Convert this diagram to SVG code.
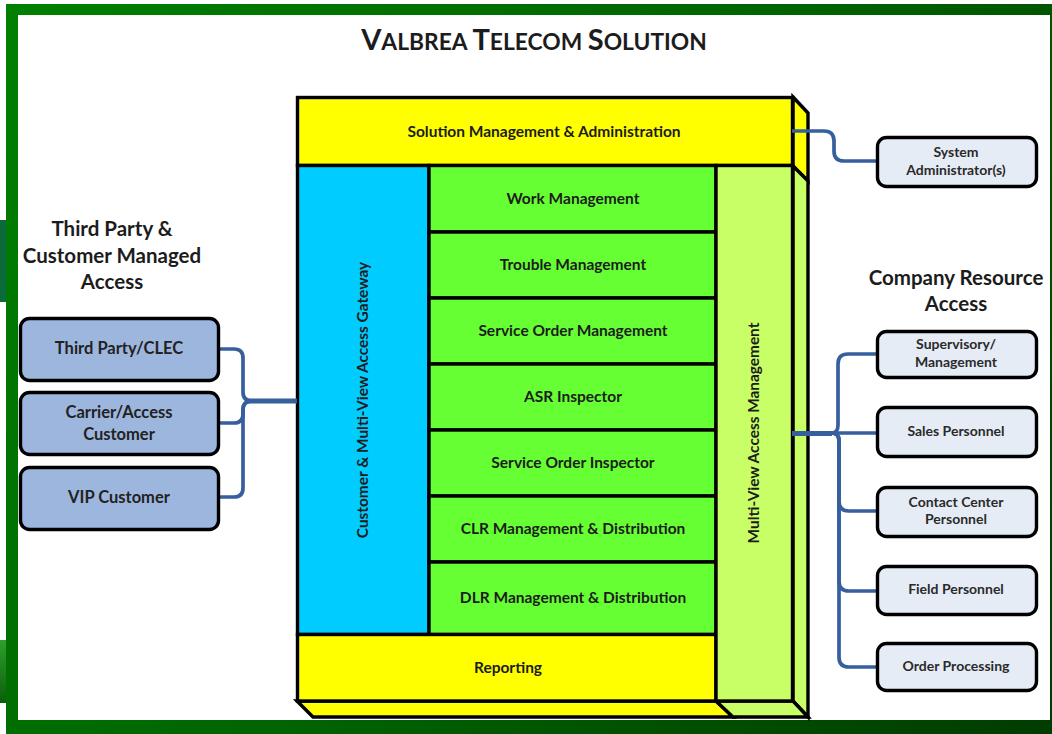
<svg xmlns="http://www.w3.org/2000/svg" width="1052" height="734" viewBox="0 0 1052 734">
<style>
text{font-family:Lato,"Liberation Sans",sans-serif;font-weight:700;fill:#1c1c1c;text-anchor:middle}
.s{stroke:#000;stroke-width:3.4;stroke-linejoin:miter}
.l{font-size:15.5px}
.v{font-size:15.4px}
.n{font-size:16.5px;fill:#222}
.p{font-size:14px;fill:#2a2a2a}
.h{font-size:20.5px}
.c{fill:none;stroke:#365f9e;stroke-width:3.7;stroke-linejoin:round}
.t{fill:none;stroke:#365f9e;stroke-width:5}
.a{fill:#9db6de;stroke:#000;stroke-width:3.4}
.b{fill:#e6ecf6;stroke:#000;stroke-width:3.4}
</style>
<defs>
<linearGradient id="fr" gradientUnits="userSpaceOnUse" x1="0" y1="0" x2="1052" y2="734"><stop offset="0" stop-color="#008000"/><stop offset="0.5" stop-color="#006400"/><stop offset="1" stop-color="#003c00"/></linearGradient>
<linearGradient id="ed" x1="0" y1="0" x2="0" y2="1"><stop offset="0" stop-color="#2e9e2e"/><stop offset="1" stop-color="#0b5e0b"/></linearGradient>
</defs>
<rect width="1052" height="734" fill="#fff"/>
<g id="frame">
<rect x="0" y="220" width="6" height="82" fill="#0a6a3a"/>
<rect x="0" y="640" width="6" height="63" fill="url(#ed)"/>
<path fill-rule="evenodd" fill="url(#fr)" d="M6 4H1052V734H6ZM18 15V720H1050V15Z"/>
</g>
<text id="title" x="534" y="50" font-size="22.800"><tspan font-size="29">V</tspan>ALBREA <tspan font-size="29">T</tspan>ELECOM <tspan font-size="29">S</tspan>OLUTION</text>
<g id="solid-faces">
<path class="s" fill="#ffff00" d="M793 97L808 113V181L793 166Z"/>
<path class="s" fill="#c9ff66" d="M793 166L808 181V717L793 701Z"/>
<path class="s" fill="#ffff00" d="M297 701L313 717H733L716 701Z"/>
<path class="s" fill="#c9ff66" d="M716 701L733 717H808L793 701Z"/>
</g>
<g id="solution-management"><rect class="s" fill="#ffff00" x="297.500" y="97.500" width="495" height="68"/><text class="l" x="544" y="137">Solution Management &amp; Administration</text></g>
<g id="gateway"><rect class="s" fill="#00ccff" x="297.500" y="165.500" width="131.500" height="469"/><text class="v" transform="translate(368 400) rotate(-90)">Customer &amp; Multi-View Access Gateway</text></g>
<g id="work-management"><rect class="s" fill="#66ff33" x="429" y="165.500" width="287" height="66.500"/><text class="l" x="573" y="204">Work Management</text></g>
<g id="trouble-management"><rect class="s" fill="#66ff33" x="429" y="232" width="287" height="66"/><text class="l" x="573" y="270">Trouble Management</text></g>
<g id="service-order-management"><rect class="s" fill="#66ff33" x="429" y="298" width="287" height="66"/><text class="l" x="573" y="336">Service Order Management</text></g>
<g id="asr-inspector"><rect class="s" fill="#66ff33" x="429" y="364" width="287" height="66"/><text class="l" x="573" y="402">ASR Inspector</text></g>
<g id="service-order-inspector"><rect class="s" fill="#66ff33" x="429" y="430" width="287" height="66"/><text class="l" x="573" y="468">Service Order Inspector</text></g>
<g id="clr-management"><rect class="s" fill="#66ff33" x="429" y="496" width="287" height="66"/><text class="l" x="573" y="534">CLR Management &amp; Distribution</text></g>
<g id="dlr-management"><rect class="s" fill="#66ff33" x="429" y="562" width="287" height="72.500"/><text class="l" x="573" y="603">DLR Management &amp; Distribution</text></g>
<g id="reporting"><rect class="s" fill="#ffff00" x="297.500" y="634.500" width="418.500" height="66.500"/><text class="l" x="508" y="673">Reporting</text></g>
<g id="multi-view"><rect class="s" fill="#c9ff66" x="716" y="165.500" width="76.500" height="535.500"/><text class="v" transform="translate(759 433) rotate(-90)">Multi-View Access Management</text></g>
<g id="connectors">
<path class="c" d="M218 349H234Q243 349 243 358V392Q243 401 252 401"/>
<path class="c" d="M218 423H234Q243 423 243 414V410Q243 401 252 401"/>
<path class="c" d="M218 497H234Q243 497 243 488V410Q243 401 252 401"/>
<path class="t" d="M248 401H297"/>
<path class="c" d="M792 131H824Q834 131 834 141V151Q834 161 844 161H877"/>
<path class="t" d="M792 433.500H832"/>
<path class="c" d="M832 433Q838 433 838 425V364Q838 354 848 354H877"/>
<path class="c" d="M832 433H877"/>
<path class="c" d="M832 433Q839 433 839 441V501Q839 511 849 511H877"/>
<path class="c" d="M832 433Q839 433 839 441V581Q839 591 849 591H877"/>
<path class="c" d="M832 433Q839 433 839 441V657Q839 667 849 667H877"/>
</g>
<text id="third-party-heading" class="h"><tspan x="112" y="236">Third Party &amp;</tspan><tspan x="112" y="263">Customer Managed</tspan><tspan x="112" y="289">Access</tspan></text>
<text id="company-heading" class="h"><tspan x="956" y="285">Company Resource</tspan><tspan x="956" y="311">Access</tspan></text>
<g id="third-party"><rect class="a" x="20.500" y="318.500" width="198" height="62" rx="9"/><text class="n" x="119" y="354">Third Party/CLEC</text></g>
<g id="carrier"><rect class="a" x="20.500" y="392.500" width="198" height="62" rx="9"/><text class="n"><tspan x="119" y="418">Carrier/Access</tspan><tspan x="119" y="440">Customer</tspan></text></g>
<g id="vip"><rect class="a" x="20.500" y="467.500" width="198" height="62" rx="9"/><text class="n" x="119" y="503">VIP Customer</text></g>
<g id="system-admin"><rect class="b" x="877.500" y="137.500" width="159" height="49" rx="9"/><text class="p"><tspan x="956" y="157">System</tspan><tspan x="956" y="175">Administrator(s)</tspan></text></g>
<g id="supervisory"><rect class="b" x="877.500" y="331.500" width="159" height="46" rx="9"/><text class="p"><tspan x="956" y="349">Supervisory/</tspan><tspan x="956" y="367">Management</tspan></text></g>
<g id="sales"><rect class="b" x="877.500" y="407.500" width="159" height="49" rx="9"/><text class="p" x="956" y="436">Sales Personnel</text></g>
<g id="contact-center"><rect class="b" x="877.500" y="487.500" width="159" height="49" rx="9"/><text class="p"><tspan x="956" y="507">Contact Center</tspan><tspan x="956" y="524">Personnel</tspan></text></g>
<g id="field"><rect class="b" x="877.500" y="566.500" width="159" height="48" rx="9"/><text class="p" x="956" y="594">Field Personnel</text></g>
<g id="order-processing"><rect class="b" x="877.500" y="643.500" width="159" height="47" rx="9"/><text class="p" x="956" y="671">Order Processing</text></g>
</svg>
